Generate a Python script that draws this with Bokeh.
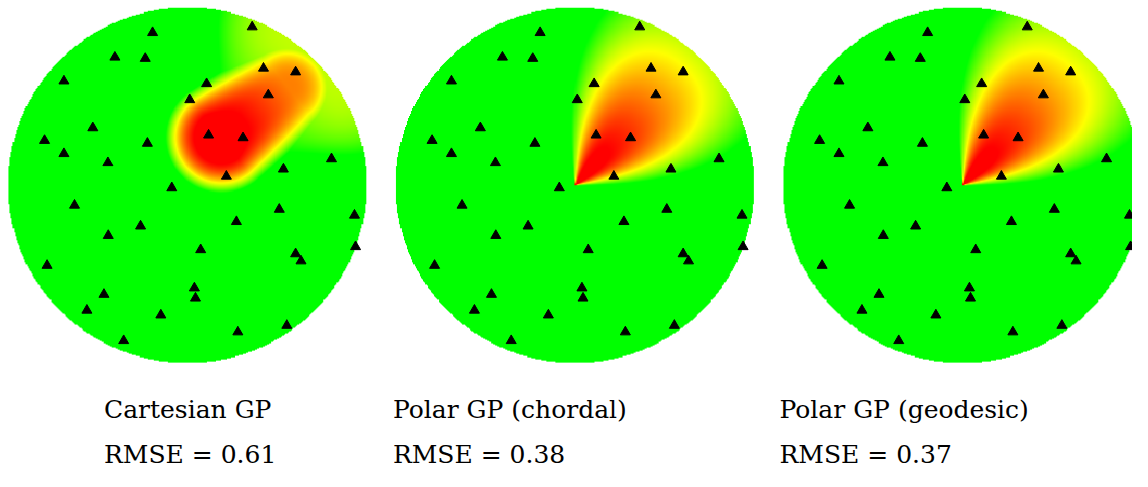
import numpy as np
from bokeh.plotting import figure
from bokeh.layouts import row
from bokeh.models import Range1d, ColumnDataSource
from bokeh.embed import file_html
from bokeh.resources import INLINE
from bokeh.core.properties import value

# ---------------- data (unit-disc coordinates) ----------------
obs_x = [-0.191, 0.364, -0.401, -0.232, -0.685, 0.427, 0.606, 0.110, 0.016, 0.454,
         -0.524, -0.793, -0.220, 0.121, 0.313, -0.685, -0.440, 0.806, 0.538, 0.220,
         -0.084, -0.626, 0.515, 0.934, 0.276, -0.258, -0.438, 0.077, 0.940, 0.606,
         0.636, -0.779, 0.042, 0.048, -0.462, -0.557, -0.145, 0.557, 0.284, -0.352]
obs_y = [0.860, 0.892, 0.722, 0.715, 0.588, 0.660, 0.639, 0.573, 0.483, 0.510,
         0.325, 0.254, 0.238, 0.284, 0.269, 0.180, 0.129, 0.151, 0.093, 0.053,
         -0.012, -0.110, -0.133, -0.166, -0.202, -0.227, -0.280, -0.360, -0.343, -0.383,
         -0.423, -0.448, -0.575, -0.632, -0.611, -0.700, -0.727, -0.785, -0.822, -0.871]

titles = ["Cartesian GP", "Polar GP (chordal)", "Polar GP (geodesic)"]
rmse_labels = ["RMSE = 0.61", "RMSE = 0.38", "RMSE = 0.37"]

# estimated shape of the posterior-mean fields (colour level 0 = green,
# 0.5 = yellow, 1 = red)
cart_start = (0.19, 0.27)
cart_end = (0.56, 0.55)
cart_peak = (1.13, 0.75)
cart_width = 0.30
cart_power = 3.0

rim_level = 0.38
rim_depth = 0.40
rim_angle_deg = 45.0
rim_width_deg = 44.0

polar_angle_deg = 48.0
polar_width_deg = 46.0
polar_peak = (1.10, 0.40)    # at r = 0 and r = 1
polar_decay = 1.5
polar_power = 2.5

# ---------------- field images ----------------
N = 330
g = np.linspace(-1, 1, N)
X, Y = np.meshgrid(g, g)
R = np.hypot(X, Y)
TH = np.arctan2(Y, X)
inside = R <= 1.0


def to_rgba(c):
    c = np.clip(c, 0, 1)
    img = np.zeros((N, N), dtype=np.uint32)
    v = img.view(dtype=np.uint8).reshape((N, N, 4))
    v[..., 0] = (np.clip(2 * c, 0, 1) * 255).astype(np.uint8)
    v[..., 1] = (np.clip(2 * (1 - c), 0, 1) * 255).astype(np.uint8)
    v[..., 2] = 0
    v[..., 3] = np.where(inside, 255, 0).astype(np.uint8)
    return img


def ang_diff(deg):
    return np.abs(np.degrees(np.angle(np.exp(1j * (TH - np.deg2rad(deg))))))


# Cartesian: elongated bump along a segment + soft glow towards the rim
P0 = np.array(cart_start)
P1 = np.array(cart_end)
D = P1 - P0
t = np.clip(((X - P0[0]) * D[0] + (Y - P0[1]) * D[1]) / (D @ D), 0, 1)
d = np.hypot(X - (P0[0] + t * D[0]), Y - (P0[1] + t * D[1]))
peak = cart_peak[0] + (cart_peak[1] - cart_peak[0]) * t
capsule = peak - (d / cart_width) ** cart_power
rim = rim_level * np.exp(-((1 - R) / rim_depth) ** 2) - (ang_diff(rim_angle_deg) / rim_width_deg) ** 4
cart_img = to_rgba(np.maximum(capsule, rim))

# Polar: wedge from the origin
pk = polar_peak[0] + (polar_peak[1] - polar_peak[0]) * R ** polar_decay
cp = pk - (ang_diff(polar_angle_deg) / polar_width_deg) ** polar_power
polar_img = to_rgba(cp)

cart_src = ColumnDataSource(dict(image=[cart_img]))
polar_src = ColumnDataSource(dict(image=[polar_img]))
pts_src = ColumnDataSource(dict(x=obs_x, y=obs_y))

# ---------------- layout (reference pixels scaled into the window) ----------------
W_TOT, H = 1132, 471
KX, KY = W_TOT / 1148.0, H / 487.0
SX, SY = 182.0 * KX, 184.0 * KY           # pixels per unit
CY = 191.5 * KY
edges = [0, 395, 785, 1148]
centres_ref = [189, 582, 975]
text_left_ref = [105, 398, 790]
title_base = 432 * KY - 9
rmse_base = 454

bounds = [round(e * KX) for e in edges]
figs = []
for i in range(3):
    left = bounds[i]
    w = bounds[i + 1] - bounds[i]
    cx = centres_ref[i] * KX - left
    p = figure(width=w, height=H,
               x_range=Range1d(-cx / SX, (w - cx) / SX),
               y_range=Range1d(-(H - CY) / SY, CY / SY),
               toolbar_location=None, output_backend="svg", min_border=0,
               x_axis_location=None, y_axis_location=None,
               outline_line_color=None, background_fill_color="white",
               border_fill_color="white")
    p.xgrid.visible = False
    p.ygrid.visible = False
    src = cart_src if i == 0 else polar_src
    p.image_rgba(image="image", x=-1, y=-1, dw=2, dh=2, source=src)
    p.scatter("x", "y", source=pts_src, marker="triangle", size=10,
              fill_color="black", line_color="black")
    tx = (text_left_ref[i] * KX - left - cx) / SX
    p.text(x=[tx], y=[(CY - title_base) / SY], text=[titles[i]],
           text_font=value("DejaVu Serif"), text_font_size="25px",
           text_baseline="alphabetic", text_align="left", text_color="black")
    p.text(x=[tx], y=[(CY - rmse_base) / SY], text=[rmse_labels[i]],
           text_font=value("DejaVu Serif"), text_font_size="25px",
           text_baseline="alphabetic", text_align="left", text_color="black")
    figs.append(p)

layout = row(*figs)
open("out.html", "w").write(file_html(layout, INLINE))
